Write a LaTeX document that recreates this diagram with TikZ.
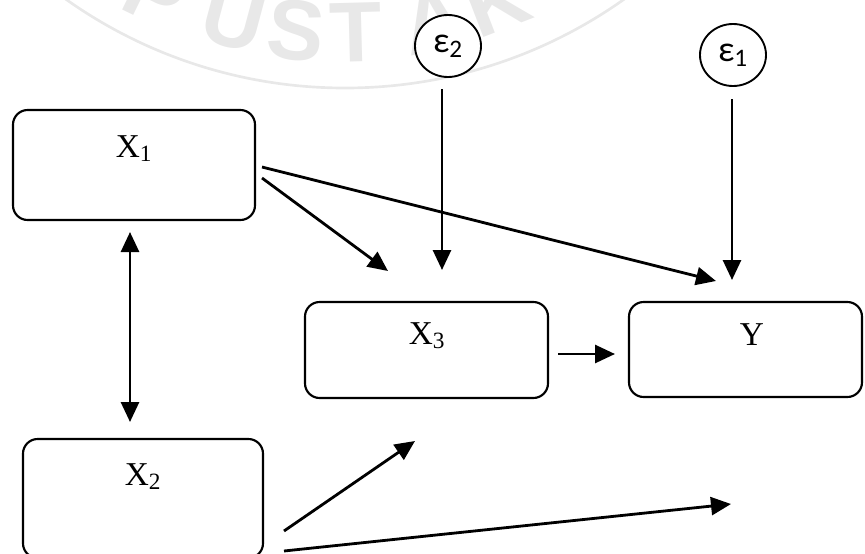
\documentclass[tikz,border=0pt]{standalone}
\usepackage{fontspec}
\setmainfont{Liberation Serif}
\newfontfamily\epsfont{Carlito}
\newfontfamily\wmfont{Liberation Sans}
\usetikzlibrary{arrows.meta,shapes.geometric,calc}
\begin{document}
\begin{tikzpicture}[x=0.75pt,y=-0.75pt,
  box/.style 2 args={draw,line width=1.6pt,rounded corners=11pt,minimum width=#1,minimum height=#2,inner sep=0pt},
  lbl/.style={anchor=base,font=\fontsize{25}{30}\selectfont,inner sep=0pt},
  errc/.style={draw,fill=white,ellipse,line width=1.4pt,minimum width=49.5pt,minimum height=46.5pt,inner sep=0pt},
  elbl/.style={font=\epsfont\fontsize{27}{30}\selectfont,inner sep=0pt},
  tip/.style={Triangle[length=15pt,width=13.5pt]},
  arr/.style={line width=2.1pt,-{Triangle[length=15pt 0 0,width=13.5pt 0]}},
  darr/.style={line width=2.1pt,{Triangle[length=15pt 0 0,width=13.5pt 0]}-{Triangle[length=15pt 0 0,width=13.5pt 0]}},
  wm/.style={text=black!9,font=\wmfont\bfseries\fontsize{64}{64}\selectfont,inner sep=0pt}]
\useasboundingbox (0,0) rectangle (865,554);
\clip (0,0) rectangle (865,554);
% watermark
\coordinate (wc) at (345,-395);
\draw[black!9,line width=2pt] (wc) circle (483);
\node[wm,rotate=-26] (wP) at ($(wc)+(116:432)$) {P};
\node[wm,rotate=-15] (wU) at ($(wc)+(105:428)$) {U};
\node[wm,rotate=-6.5] (wS) at ($(wc)+(96.5:428)$) {S};
\node[wm,rotate=1.5] (wT) at ($(wc)+(88.5:428)$) {T};
\node[wm,rotate=12] (wA) at ($(wc)+(78:426)$) {A};
\node[wm,rotate=21] (wK) at ($(wc)+(69:424)$) {K};
% boxes
\node[box={181.5pt}{82.5pt}] (x1) at (134,165) {};
\node[lbl] (x1l) at (134,157) {X\textsubscript{1}};
\node[box={182.25pt}{72pt}] (x3) at (426.5,350) {};
\node[lbl] (x3l) at (427,344) {X\textsubscript{3}};
\node[box={180pt}{89.25pt}] (x2) at (143,498.5) {};
\node[lbl] (x2l) at (143,485) {X\textsubscript{2}};
\node[box={174.75pt}{71.25pt}] (y) at (745.5,349.5) {};
\node[lbl] (yl) at (752,345) {Y};
% error terms
\node[errc] (e2) at (448,46) {};
\node[elbl] (e2l) at (448,46) {ε\textsubscript{2}};
\node[errc] (e1) at (733,55) {};
\node[elbl] (e1l) at (733,55) {ε\textsubscript{1}};
% connector end points
\coordinate (e2s) at (442,89);  \coordinate (e2t) at (442,270);
\coordinate (e1s) at (732,99);  \coordinate (e1t) at (732,280);
\coordinate (x1a) at (262,178); \coordinate (x3a) at (388,271);
\coordinate (x1b) at (262,167); \coordinate (ya)  at (716,281);
\coordinate (x3b) at (558,354); \coordinate (yb)  at (615,354);
\coordinate (x2a) at (284,531); \coordinate (x3c) at (415,441);
\coordinate (x2b) at (284,551); \coordinate (yc)  at (731,504);
\coordinate (x1c) at (130,232); \coordinate (x2c) at (130,422);
% connectors
\draw[arr] (e2s) -- (e2t);
\draw[arr] (e1s) -- (e1t);
\draw[arr] (x1a) -- (x3a);
\draw[arr] (x1b) -- (ya);
\draw[arr] (x3b) -- (yb);
\draw[arr] (x2a) -- (x3c);
\draw[arr] (x2b) -- (yc);
\draw[darr] (x1c) -- (x2c);
\end{tikzpicture}
\end{document}
